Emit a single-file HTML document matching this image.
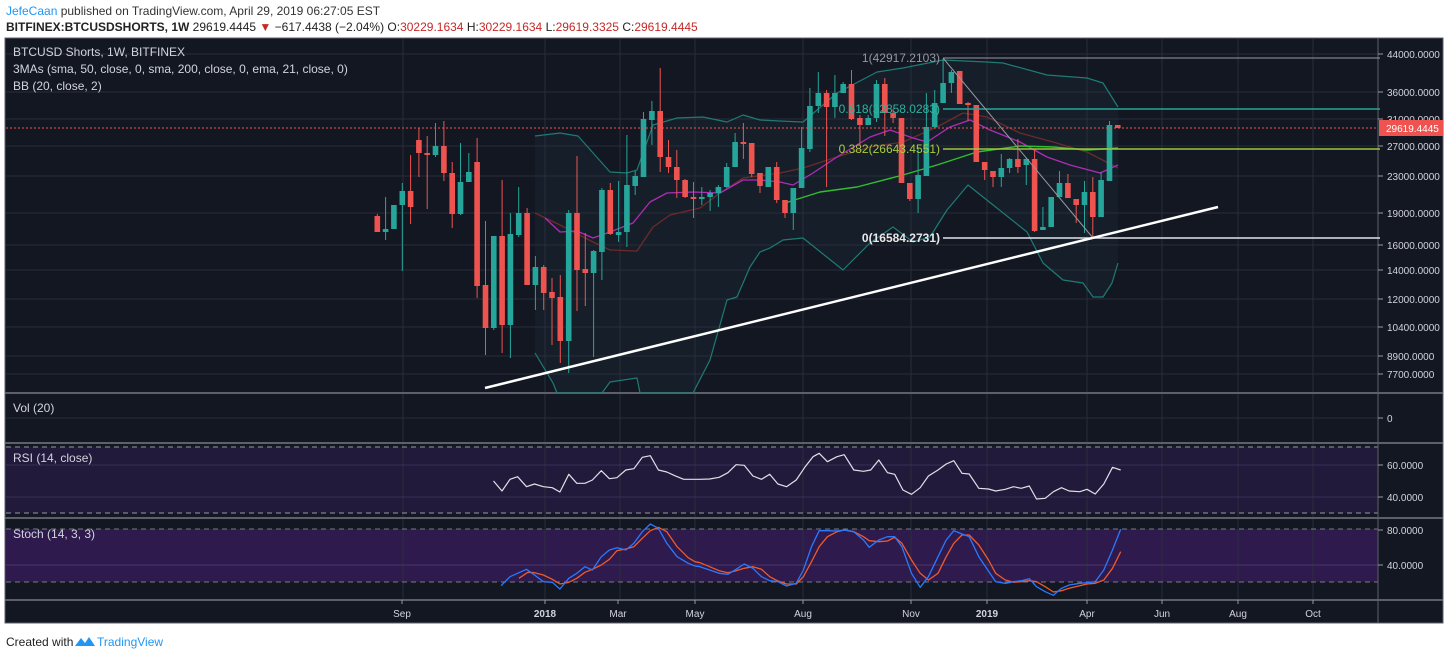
<!DOCTYPE html>
<html><head><meta charset="utf-8"><style>
html,body{margin:0;padding:0;background:#fff;width:1450px;height:657px;overflow:hidden}
svg{display:block}
text{font-family:"Liberation Sans",sans-serif}
</style></head><body>
<svg id="s" width="1450" height="657" xmlns="http://www.w3.org/2000/svg">
<text x="6" y="15" font-size="12" fill="#2196f3">JefeCaan<tspan fill="#333"> published on TradingView.com, April 29, 2019 06:27:05 EST</tspan></text>
<text x="6" y="31" font-size="12" fill="#222"><tspan font-weight="bold">BITFINEX:BTCUSDSHORTS, 1W</tspan> 29619.4445 <tspan fill="#c62828">▼</tspan> −617.4438 (−2.04%) O:<tspan fill="#c62828">30229.1634</tspan> H:<tspan fill="#c62828">30229.1634</tspan> L:<tspan fill="#c62828">29619.3325</tspan> C:<tspan fill="#c62828">29619.4445</tspan></text>
<rect x="5" y="38" width="1438" height="585" fill="#131722" stroke="#5d606b" stroke-width="1"/>
<g id="g"></g>
<text x="6" y="646" font-size="12" fill="#222">Created with</text>
<path d="M75 646 l6 -8 l4 5 l4 -6 l6 9 z" fill="#2196f3"/>
<text x="97" y="646" font-size="12" fill="#2196f3">TradingView</text>
</svg>
<script>
var g=document.getElementById('g'),h='';
function L(x1,y1,x2,y2,c,w,d){h+='<line x1="'+x1+'" y1="'+y1+'" x2="'+x2+'" y2="'+y2+'" stroke="'+c+'" stroke-width="'+(w||1)+'"'+(d?' stroke-dasharray="'+d+'"':'')+'/>';}
function R(x,y,w,hh,c){h+='<rect x="'+x+'" y="'+y+'" width="'+w+'" height="'+hh+'" fill="'+c+'"/>';}
function T(x,y,s,c,sz,a,b){h+='<text x="'+x+'" y="'+y+'" font-size="'+(sz||11)+'" fill="'+c+'"'+(a?' text-anchor="'+a+'"':'')+(b?' font-weight="bold"':'')+'>'+s+'</text>';}
function P(pts,c,w,fill){h+='<polyline points="'+pts.map(p=>p.join(',')).join(' ')+'" fill="'+(fill||'none')+'" stroke="'+c+'" stroke-width="'+(w||1)+'" stroke-linejoin="round"/>';}
R(6,447,1372,66,'#221a3b');R(6,529,1372,53,'#2e1a4d');
var vx=[403,545,620,695,803,911,987,1087,1162,1238,1313];
var up=[[535,136],[560,133],[578,136],[610,172],[627,173],[637,170],[653,125],[677,118],[703,117],[727,122],[743,115],[760,120],[780,121],[803,122],[837,93],[877,72],[903,68],[943,60],[987,62],[1003,63],[1047,75],[1087,78],[1103,83],[1118,107]];
var lo=[[535,353],[553,383],[557,393],[602,393],[610,382],[637,378],[640,393],[693,393],[710,360],[727,300],[737,297],[750,267],[760,252],[770,248],[783,240],[803,238],[843,270],[870,243],[893,227],[913,242],[930,237],[947,210],[968,185],[983,197],[1027,232],[1043,263],[1063,280],[1083,283],[1093,297],[1103,297],[1112,283],[1118,263]];
h+='<polygon points="'+up.concat(lo.slice().reverse()).map(p=>p.join(',')).join(' ')+'" fill="#161f29"/>';
vx.forEach(x=>L(x,39,x,600,'#2a2e39'));
[54,92,119,146,176,213,245,270,299,327,356,374].forEach(y=>L(6,y,1378,y,'#2a2e39'));
L(6,418,1378,418,'#2a2e39');L(6,465,1378,465,'#3a2f57');L(6,497,1378,497,'#3a2f57');L(6,565,1378,565,'#4a3470');
L(6,447,1378,447,'#9598a1',1,'5,4');L(6,513,1378,513,'#9598a1',1,'5,4');
L(6,529,1378,529,'#787b86',1,'5,4');L(6,582,1378,582,'#787b86',1,'5,4');
[393,443,518,600].forEach(y=>L(5,y,1443,y,'#5d606b',2));
L(1378,38,1378,623,'#5d606b');
P(up,'#1f7a75',1.2);P(lo,'#1f7a75',1.2);
P([[535,213],[560,225],[593,242],[610,250],[637,251],[653,227],[670,215],[700,208],[720,193],[743,178],[780,173],[803,168],[837,157],[870,147],[903,142],[937,127],[963,113],[987,117],[1020,133],[1053,142],[1087,152],[1118,168]],'#6d2a2a',1.3);
P([[545,218],[560,232],[577,231],[593,238],[610,232],[633,223],[650,202],[667,193],[693,192],[720,193],[743,180],[760,180],[780,182],[793,185],[813,173],[837,157],[870,137],[890,130],[913,138],[927,142],[950,127],[970,120],[990,130],[1020,142],[1047,157],[1070,165],[1100,173],[1118,165]],'#b02bb8',1.3);
P([[785,203],[820,192],[857,187],[903,175],[937,165],[977,152],[1020,146],[1053,147],[1087,150],[1118,148]],'#2fbf2f',1.4);
var C=[['r',216,232,214,232],['g',229,232,197,240],['g',205,229,205,229],['g',191,205,183,271],['r',191,207,155,224],['r',140,153,128,177],['r',153,155,136,209],['g',146,155,123,157],['r',146,173,121,181],['r',173,214,162,228],['g',182,214,143,215],['g',172,182,153,182],['r',162,286,138,298],['r',285,328,221,355],['g',236,328,236,330],['r',236,325,180,353],['g',234,325,213,358],['g',213,235,187,237],['r',213,285,208,285],['g',267,285,256,310],['r',267,293,265,310],['r',292,298,278,345],['r',297,341,275,363],['g',213,341,210,373],['r',213,270,156,311],['r',269,273,233,306],['g',251,273,250,357],['g',190,252,188,280],['r',190,234,183,235],['g',232,235,181,242],['g',185,232,135,247],['g',176,186,171,195],['g',119,177,112,177],['g',111,120,101,145],['r',111,157,68,172],['r',157,167,140,173],['r',167,180,150,198],['r',180,197,179,198],['r',197,198,182,218],['g',197,198,187,205],['g',193,197,190,211],['g',187,193,185,207],['g',167,187,163,188],['g',142,167,133,167],['r',142,144,123,159],['r',143,174,143,177],['r',173,186,173,193],['g',167,187,167,187],['r',167,200,162,203],['r',200,213,200,218],['g',188,213,188,230],['g',148,188,127,188],['g',106,149,88,152],['g',93,106,72,113],['r',93,107,90,187],['g',93,107,75,118],['g',84,93,82,93],['r',84,119,70,120],['r',118,125,115,145],['g',118,125,115,125],['g',84,118,80,122],['r',84,113,78,136],['r',113,118,109,123],['r',118,183,118,183],['r',183,199,183,201],['g',175,199,147,213],['g',127,176,93,176],['g',103,127,90,128],['g',83,103,59,103],['g',72,83,70,93],['r',71,104,71,104],['r',103,105,102,121],['r',105,162,105,162],['r',162,170,162,180],['r',171,177,171,187],['g',168,177,154,187],['g',159,168,158,173],['r',159,167,139,173],['g',159,165,158,185],['r',159,231,150,232],['g',227,230,207,230],['g',197,227,197,227],['g',183,197,171,197],['r',183,198,174,198],['r',199,205,199,223],['g',192,205,181,233],['r',192,217,177,237],['g',180,217,172,217],['g',125,181,121,181],['r',125,128,125,128]];
C.forEach((c,i)=>{var x=377.3+i*8.32,col=c[0]=='g'?'#26a69a':'#ef5350';L(x.toFixed(1),c[3],x.toFixed(1),c[4],col,1);R((x-2.8).toFixed(1),c[1],5.6,Math.max(2,c[2]-c[1]),col);});
L(943,58,1380,58,'#9598a1');L(943,109,1380,109,'#26a69a',1.5);L(943,149,1380,149,'#9bc53d',1.5);L(943,238,1380,238,'#e0e3eb',1.5);
L(943,58,1093,238,'#9598a1');
T(940,62,'1(42917.2103)','#9598a1',12,'end');T(940,113,'0.618(32858.0283)','#2fb19f',12,'end');T(940,153,'0.382(26643.4551)','#a9cc3f',12,'end');T(940,242,'0(16584.2731)','#e8e8e8',12,'end',1);
L(485,388,1218,207,'#ffffff',2.5);
L(6,128,1378,128,'#ef5350',1,'2,2');
var rsi=[];[[1108,303],[1127,333],[1145,298],[1162,290],[1182,320],[1200,312],[1220,320],[1240,323],[1257,336],[1277,283],[1295,310],[1313,310],[1330,300],[1350,272],[1368,296],[1385,293],[1405,270],[1423,266],[1442,232],[1460,227],[1478,270],[1497,276],[1515,287],[1535,298],[1560,298]].forEach(p=>rsi.push([(p[0]/2.245).toFixed(1),(380+p[1]/3).toFixed(1)]));
[[0,298],[20,297],[40,292],[58,278],[75,254],[92,256],[110,288],[128,298],[145,283],[162,312],[180,320],[200,300],[218,262],[235,230],[248,220],[265,245],[285,230],[300,224],[320,270],[340,274],[355,270],[372,240],[390,278],[405,283],[422,330],[440,343],[458,323],[475,288],[495,270],[512,252],[528,242],[545,280],[560,282],[580,325],[600,327],[615,333],[635,328],[652,320],[668,325],[685,318],[700,357],[718,355],[735,335],[752,323],[768,333],[790,335],[805,328],[822,342],[840,312],[858,262],[875,270]].forEach(p=>rsi.push([(700+p[0]/2.08).toFixed(1),(380+p[1]/3).toFixed(1)]));
P(rsi,'#e0e0e8',1.2);
function cv(a,b){var r=[];a.forEach(p=>r.push([(p[0]/2.245).toFixed(1),(380+p[1]/3).toFixed(1)]));b.forEach(p=>r.push([(700+p[0]/2.08).toFixed(1),(380+p[1]/3).toFixed(1)]));return r;}
P(cv([[1165,595],[1185,577],[1200,578],[1220,585],[1240,598],[1257,612],[1277,607],[1295,595],[1313,577],[1330,568],[1350,555],[1368,538],[1385,512],[1405,507],[1423,500],[1442,475],[1460,452],[1478,442],[1497,455],[1520,500],[1545,533],[1560,545]],[[0,548],[20,560],[40,572],[58,578],[75,572],[92,565],[110,560],[128,568],[145,590],[162,603],[180,612],[200,612],[215,590],[232,545],[248,500],[265,470],[285,455],[300,450],[320,455],[340,470],[352,482],[372,485],[390,483],[405,472],[420,490],[440,540],[458,580],[475,600],[495,580],[512,530],[528,490],[545,465],[560,465],[580,495],[600,540],[615,580],[635,600],[652,607],[668,605],[685,602],[700,605],[718,620],[735,636],[752,632],[768,625],[790,617],[805,612],[822,610],[840,600],[858,565],[875,515]]),'#f0592a',1.3);
P(cv([[1125,617],[1145,590],[1182,568],[1200,585],[1220,605],[1240,607],[1257,627],[1277,595],[1295,580],[1313,560],[1330,570],[1350,530],[1368,510],[1385,503],[1405,510],[1423,490],[1442,455],[1460,432],[1478,445],[1497,490],[1520,530],[1545,550],[1560,558]],[[0,560],[20,570],[40,580],[58,583],[75,568],[92,552],[110,565],[128,590],[145,602],[162,605],[180,618],[200,610],[215,570],[232,500],[248,452],[265,452],[285,453],[300,450],[320,455],[340,480],[352,502],[372,480],[390,470],[405,470],[420,500],[440,580],[458,622],[475,590],[495,530],[512,480],[528,452],[545,462],[560,470],[580,530],[615,605],[635,610],[652,605],[668,602],[685,596],[700,620],[718,635],[735,646],[752,625],[768,615],[790,610],[805,608],[822,605],[840,570],[858,510],[875,448]]),'#2979ff',1.3);
[[54,'44000.0000'],[92,'36000.0000'],[119,'31000.0000'],[146,'27000.0000'],[176,'23000.0000'],[213,'19000.0000'],[245,'16000.0000'],[270,'14000.0000'],[299,'12000.0000'],[327,'10400.0000'],[356,'8900.0000'],[374,'7700.0000'],[418,'0'],[465,'60.0000'],[497,'40.0000'],[530,'80.0000'],[565,'40.0000']].forEach(a=>{L(1378,a[0],1383,a[0],'#9598a1');T(1387,a[0]+4,a[1],'#d1d4dc',10);});
R(1379,120,64,16,'#ef5350');T(1386,132,'29619.4445','#ffffff',10);
var tl=[[402,'Sep'],[545,'2018',1],[618,'Mar'],[695,'May'],[803,'Aug'],[911,'Nov'],[987,'2019',1],[1087,'Apr'],[1162,'Jun'],[1238,'Aug'],[1313,'Oct']];
tl.forEach(t=>{L(t[0],600,t[0],604,'#9598a1');T(t[0],617,t[1],'#d1d4dc',10,'middle',t[2]);});
T(13,56,'BTCUSD Shorts, 1W, BITFINEX','#d1d4dc',12);T(13,73,'3MAs (sma, 50, close, 0, sma, 200, close, 0, ema, 21, close, 0)','#d1d4dc',12);T(13,90,'BB (20, close, 2)','#d1d4dc',12);
T(13,412,'Vol (20)','#d1d4dc',12);T(13,462,'RSI (14, close)','#d1d4dc',12);T(13,538,'Stoch (14, 3, 3)','#d1d4dc',12);
g.innerHTML=h;
</script>
</body></html>
